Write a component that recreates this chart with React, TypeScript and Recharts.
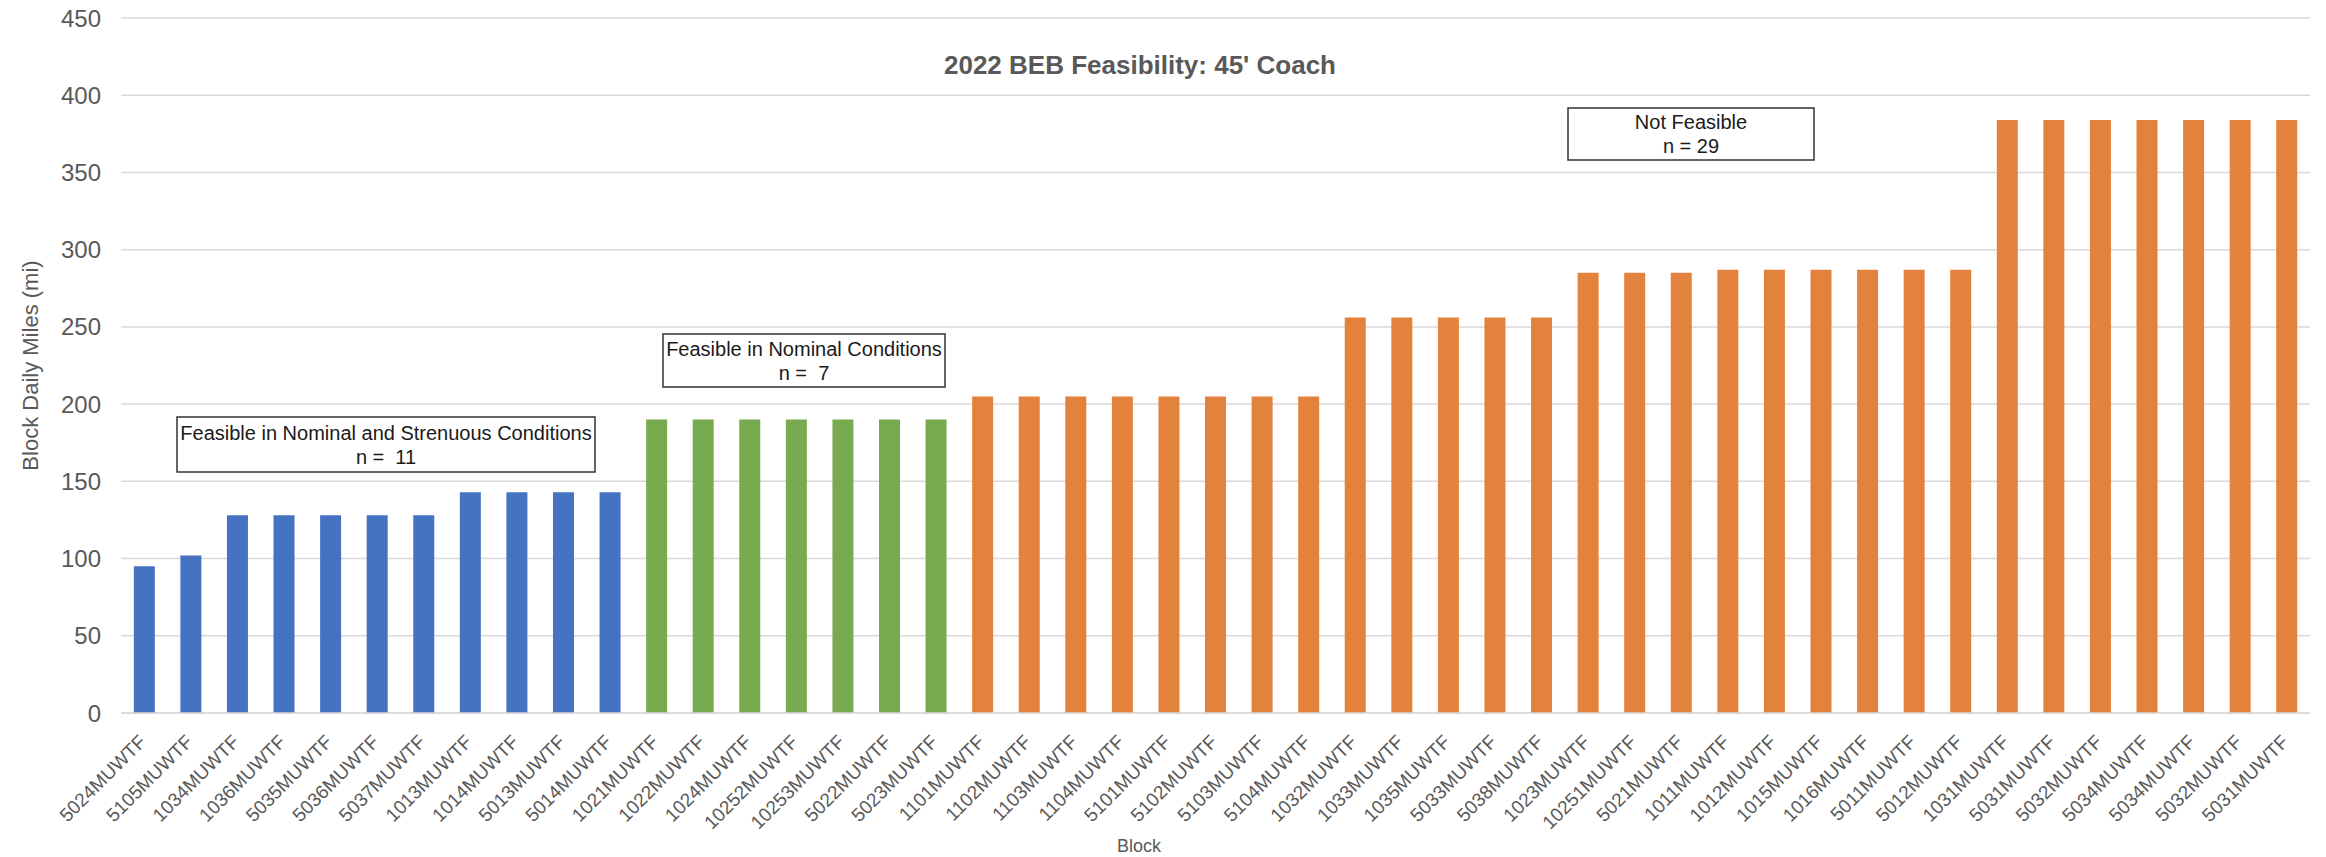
import { BarChart, Bar, Cell, XAxis, YAxis, CartesianGrid } from 'recharts';

const blocks = [
  '5024MUWTF', '5105MUWTF', '1034MUWTF', '1036MUWTF', '5035MUWTF', '5036MUWTF', '5037MUWTF',
  '1013MUWTF', '1014MUWTF', '5013MUWTF', '5014MUWTF',
  '1021MUWTF', '1022MUWTF', '1024MUWTF', '10252MUWTF', '10253MUWTF', '5022MUWTF', '5023MUWTF',
  '1101MUWTF', '1102MUWTF', '1103MUWTF', '1104MUWTF', '5101MUWTF', '5102MUWTF', '5103MUWTF', '5104MUWTF',
  '1032MUWTF', '1033MUWTF', '1035MUWTF', '5033MUWTF', '5038MUWTF',
  '1023MUWTF', '10251MUWTF', '5021MUWTF',
  '1011MUWTF', '1012MUWTF', '1015MUWTF', '1016MUWTF', '5011MUWTF', '5012MUWTF',
  '1031MUWTF', '5031MUWTF', '5032MUWTF', '5034MUWTF', '5034MUWTF', '5032MUWTF', '5031MUWTF',
];

const miles = [
  95, 102, 128, 128, 128, 128, 128,
  143, 143, 143, 143,
  190, 190, 190, 190, 190, 190, 190,
  205, 205, 205, 205, 205, 205, 205, 205,
  256, 256, 256, 256, 256,
  285, 285, 285,
  287, 287, 287, 287, 287, 287,
  384, 384, 384, 384, 384, 384, 384,
];

// bars per feasibility class, in order
const groupSizes = [11, 7, 29];
const groupColors = ['#4672c2', '#78ab50', '#e3823c'];

const yTicks = [0, 50, 100, 150, 200, 250, 300, 350, 400, 450];

const notes = [
  { line1: 'Feasible in Nominal and Strenuous Conditions', line2: 'n =  11', x: 177, y: 417, w: 418, h: 55 },
  { line1: 'Feasible in Nominal Conditions', line2: 'n =  7', x: 663, y: 334, w: 282, h: 53 },
  { line1: 'Not Feasible', line2: 'n = 29', x: 1568, y: 108, w: 246, h: 52 },
];

const FONT = 'Liberation Sans, Arial, sans-serif';

const data = blocks.map((block, i) => ({ block, miles: miles[i] }));

const barGroup: number[] = [];
groupSizes.forEach((n, g) => {
  for (let k = 0; k < n; k++) barGroup.push(g);
});

function BlockTick(props: any) {
  const { x, y, payload } = props;
  const ax = x + 3;
  const ay = y + 30;
  return (
    <text
      x={ax}
      y={ay}
      transform={`rotate(-45 ${ax} ${ay})`}
      textAnchor="end"
      fontSize={19}
      fontFamily={FONT}
      fill="#595959"
    >
      {payload.value}
    </text>
  );
}

export default function App() {
  return (
    <div style={{ position: 'absolute', left: 0, top: 0, width: 2326, height: 857, background: '#fff' }}>
      <BarChart
        width={2326}
        height={857}
        data={data}
        margin={{ top: 18, right: 16, bottom: 0, left: 0 }}
        barCategoryGap="27.5%"
      >
        <CartesianGrid vertical={false} stroke="#d9d9d9" strokeWidth={1.5} />
        <XAxis
          dataKey="block"
          interval={0}
          height={144}
          tickLine={false}
          tickSize={0}
          tickMargin={0}
          axisLine={{ stroke: '#d9d9d9', strokeWidth: 1.5 }}
          tick={<BlockTick />}
        />
        <YAxis
          width={121}
          domain={[0, 450]}
          ticks={yTicks}
          axisLine={false}
          tickLine={false}
          tickSize={0}
          tickMargin={20}
          tick={{ fontSize: 24, fill: '#595959', fontFamily: FONT }}
          label={{
            value: 'Block Daily Miles (mi)',
            angle: -90,
            position: 'insideLeft',
            offset: 30,
            style: { textAnchor: 'middle', fontSize: 22, fill: '#595959', fontFamily: FONT },
          }}
        />
        <Bar dataKey="miles" isAnimationActive={false}>
          {data.map((d, i) => (
            <Cell key={`bar-${i}`} fill={groupColors[barGroup[i]]} />
          ))}
        </Bar>
      </BarChart>
      <svg
        width={2326}
        height={857}
        style={{ position: 'absolute', left: 0, top: 0, pointerEvents: 'none' }}
        fontFamily={FONT}
      >
        <text x={1140} y={74} textAnchor="middle" fontSize={26} fontWeight="bold" fill="#595959">
          2022 BEB Feasibility: 45' Coach
        </text>
        <text x={1139} y={852} textAnchor="middle" fontSize={18} fill="#595959">
          Block
        </text>
        {notes.map((n) => (
          <g key={n.line1}>
            <rect x={n.x} y={n.y} width={n.w} height={n.h} fill="#fff" stroke="#333" strokeWidth={1.5} />
            <text x={n.x + n.w / 2} y={n.y + n.h / 2 - 5} textAnchor="middle" fontSize={20} fill="#1a1a1a" style={{ whiteSpace: 'pre' }}>
              {n.line1}
            </text>
            <text x={n.x + n.w / 2} y={n.y + n.h / 2 + 19} textAnchor="middle" fontSize={20} fill="#1a1a1a" style={{ whiteSpace: 'pre' }}>
              {n.line2}
            </text>
          </g>
        ))}
      </svg>
    </div>
  );
}
